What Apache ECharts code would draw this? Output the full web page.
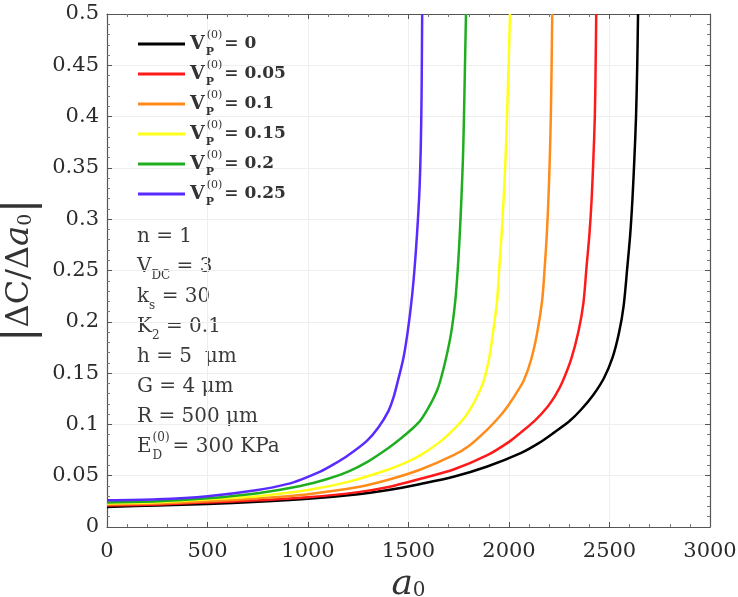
<!DOCTYPE html>
<html>
<head>
<meta charset="utf-8">
<script src="https://cdn.jsdelivr.net/npm/echarts@6/dist/echarts.min.js"></script>
<style>
  html, body { margin: 0; padding: 0; background: #fff; }
  #chart { width: 738px; height: 597px; }
</style>
</head>
<body>
<div id="chart"></div>
<script>
// values, one pair of arrays per curve
const vpLabels = ['0', '0.05', '0.1', '0.15', '0.2', '0.25'];
const lineColors = ['#000000', '#ff1a1a', '#ff8c1a', '#ffff1a', '#1fae1f', '#5a2bff'];

const blackX = [0, 250, 500, 750, 1000, 1250, 1400, 1560, 1724, 1892, 2058, 2150, 2224, 2300, 2357, 2420, 2472, 2515, 2547, 2570, 2589, 2603, 2614, 2624, 2632, 2638, 2642];
const blackY = [0.0195, 0.021, 0.0225, 0.0245, 0.0275, 0.032, 0.036, 0.042, 0.049, 0.059, 0.072, 0.082, 0.092, 0.103, 0.114, 0.129, 0.145, 0.165, 0.189, 0.215, 0.254, 0.285, 0.319, 0.36, 0.40, 0.45, 0.5];

const redX = [0, 250, 500, 750, 1000, 1250, 1400, 1560, 1724, 1892, 2000, 2058, 2130, 2191, 2230, 2265, 2310, 2346, 2370, 2386, 2400, 2411, 2420, 2427, 2431, 2434];
const redY = [0.021, 0.022, 0.024, 0.026, 0.029, 0.034, 0.039, 0.047, 0.056, 0.070, 0.083, 0.092, 0.104, 0.117, 0.128, 0.141, 0.164, 0.191, 0.218, 0.254, 0.285, 0.319, 0.36, 0.40, 0.45, 0.5];

const orangeX = [0, 250, 500, 750, 1000, 1250, 1400, 1560, 1724, 1800, 1892, 1950, 1991, 2035, 2074, 2110, 2140, 2165, 2178, 2188, 2196, 2203, 2208, 2212, 2215];
const orangeY = [0.022, 0.023, 0.025, 0.028, 0.032, 0.039, 0.046, 0.056, 0.070, 0.079, 0.095, 0.107, 0.117, 0.130, 0.143, 0.163, 0.189, 0.221, 0.254, 0.285, 0.319, 0.36, 0.40, 0.45, 0.5];

const yellowX = [0, 250, 500, 750, 1000, 1200, 1400, 1500, 1560, 1650, 1724, 1780, 1825, 1855, 1875, 1900, 1920, 1941, 1952, 1963, 1973, 1983, 1990, 1998, 2005];
const yellowY = [0.023, 0.024, 0.027, 0.030, 0.036, 0.044, 0.056, 0.064, 0.070, 0.082, 0.095, 0.107, 0.121, 0.133, 0.143, 0.163, 0.189, 0.221, 0.254, 0.285, 0.319, 0.36, 0.40, 0.45, 0.5];

const greenX = [0, 250, 500, 750, 962, 1100, 1200, 1300, 1400, 1460, 1520, 1560, 1610, 1642, 1659, 1685, 1712, 1733, 1746, 1755, 1763, 1771, 1776, 1781, 1786];
const greenY = [0.024, 0.025, 0.028, 0.033, 0.040, 0.047, 0.054, 0.064, 0.077, 0.086, 0.096, 0.104, 0.120, 0.133, 0.143, 0.163, 0.189, 0.221, 0.254, 0.285, 0.319, 0.36, 0.40, 0.45, 0.5];

const purpleX = [0, 250, 500, 750, 900, 962, 1061, 1127, 1200, 1293, 1350, 1400, 1425, 1448, 1475, 1495, 1512, 1525, 1537, 1547, 1555, 1561, 1565, 1568];
const purpleY = [0.026, 0.027, 0.030, 0.036, 0.042, 0.046, 0.054, 0.061, 0.070, 0.084, 0.097, 0.113, 0.126, 0.143, 0.165, 0.189, 0.215, 0.240, 0.27, 0.30, 0.33, 0.37, 0.42, 0.5];

const curveX = [blackX, redX, orangeX, yellowX, greenX, purpleX];
const curveY = [blackY, redY, orangeY, yellowY, greenY, purpleY];

const infoLines = [
  'n = 1',
  'V{sb|DC} = 3',
  'k{sb|s} = 30',
  'K{sb|2} = 0.1',
  'h = 5  μm',
  'G = 4 μm',
  'R = 500 μm',
  'E{sp|(0)}{sb2|D} = 300 KPa'
];

const serif = 'DejaVu Serif';
const chart = echarts.init(document.getElementById('chart'));

const series = vpLabels.map((lab, i) => ({
  name: lab,
  type: 'line',
  showSymbol: false,
  smooth: 0.3,
  xAxisIndex: 0,
  yAxisIndex: 0,
  lineStyle: { width: 2.5, color: lineColors[i] },
  itemStyle: { color: lineColors[i] },
  data: curveX[i].map((x, k) => [x, curveY[i][k]])
}));

// frame axes: ticks inside on all four sides
function frameAxis(pos, isX) {
  const ax = {
    type: 'value',
    position: pos,
    min: 0,
    max: isX ? 3000 : 0.5,
    interval: isX ? 500 : 0.05,
    axisLine: { show: true, onZero: false, lineStyle: { color: '#555', width: 1.2 } },
    axisTick: { show: true, inside: true, length: 5, lineStyle: { color: '#555' } },
    minorTick: { show: true, splitNumber: 5, length: 3, lineStyle: { color: '#777' } },
    splitLine: { show: false },
    axisLabel: { show: false }
  };
  return ax;
}

const xMain = frameAxis('bottom', true);
xMain.splitLine = { show: true, lineStyle: { color: '#eeeeee', width: 1 } };
xMain.axisLabel = { show: true, fontFamily: serif, fontSize: 21, color: '#2a2a2a', margin: 14, formatter: v => String(v) };
xMain.name = '{i|a}{s|0}';
xMain.nameLocation = 'middle';
xMain.nameGap = 29;
xMain.nameTextStyle = {
  rich: {
    i: { fontFamily: serif, fontStyle: 'italic', fontSize: 36, color: '#333' },
    s: { fontFamily: serif, fontSize: 20, color: '#333', padding: [12, 0, 0, 0] }
  }
};

const yMain = frameAxis('left', false);
yMain.splitLine = { show: true, lineStyle: { color: '#eeeeee', width: 1 } };
yMain.axisLabel = {
  show: true, fontFamily: serif, fontSize: 21, color: '#2a2a2a', margin: 8,
  formatter: v => String(+v.toFixed(2))
};
yMain.name = '{b||}ΔC/Δ{i|a}{s|0}{b||}';
yMain.nameLocation = 'middle';
yMain.nameRotate = 90;
yMain.nameGap = 62;
yMain.nameTextStyle = {
  fontFamily: serif, fontSize: 32, color: '#333',
  rich: {
    b: { fontFamily: serif, fontSize: 44, color: '#333' },
    i: { fontFamily: serif, fontStyle: 'italic', fontSize: 34, color: '#333' },
    s: { fontFamily: serif, fontSize: 19, color: '#333', padding: [14, 0, 0, 0] }
  }
};

const option = {
  animation: false,
  backgroundColor: '#fff',
  grid: { left: 107, right: 28, top: 14, bottom: 70, containLabel: false, outerBoundsMode: 'none' },
  xAxis: [xMain, frameAxis('top', true)],
  yAxis: [yMain, frameAxis('right', false)],
  legend: {
    orient: 'vertical',
    left: 133,
    top: 25,
    icon: 'rect',
    itemWidth: 47,
    itemHeight: 3,
    itemGap: 2,
    data: vpLabels,
    formatter: name => '{v|V}{p|P}{s|(0)}{e|= ' + name + '}',
    textStyle: {
      color: '#333',
      rich: {
        v: { fontFamily: serif, fontWeight: 'bold', fontSize: 19, color: '#333', lineHeight: 28, verticalAlign: 'middle' },
        p: { fontFamily: serif, fontWeight: 'bold', fontSize: 11, color: '#333', width: 0, align: 'left', verticalAlign: 'bottom', lineHeight: 28, padding: [0, 0, 0, 1] },
        s: { fontFamily: serif, fontSize: 11, color: '#333', verticalAlign: 'top', lineHeight: 28, padding: [0, 2, 0, 1] },
        e: { fontFamily: serif, fontWeight: 'bold', fontSize: 17, color: '#333', lineHeight: 28, verticalAlign: 'middle' }
      }
    }
  },
  graphic: infoLines.map((t, i) => ({
    type: 'text',
    left: 137,
    top: 222 + i * 30,
    style: {
      text: t,
      fill: '#3a3a3a',
      font: '20px "' + serif + '"',
      lineHeight: 30,
      rich: {
        sb: { fontFamily: serif, fontSize: 12, fill: '#3a3a3a', lineHeight: 30, verticalAlign: 'bottom' },
        sb2: { fontFamily: serif, fontSize: 12, fill: '#3a3a3a', lineHeight: 30, verticalAlign: 'bottom', padding: [0, 4, 0, 0] },
        sp: { fontFamily: serif, fontSize: 12, fill: '#3a3a3a', lineHeight: 30, verticalAlign: 'top', width: 0, align: 'left', padding: [0, 0, 0, 1] }
      }
    }
  })),
  series: series
};

chart.setOption(option);
</script>
</body>
</html>
